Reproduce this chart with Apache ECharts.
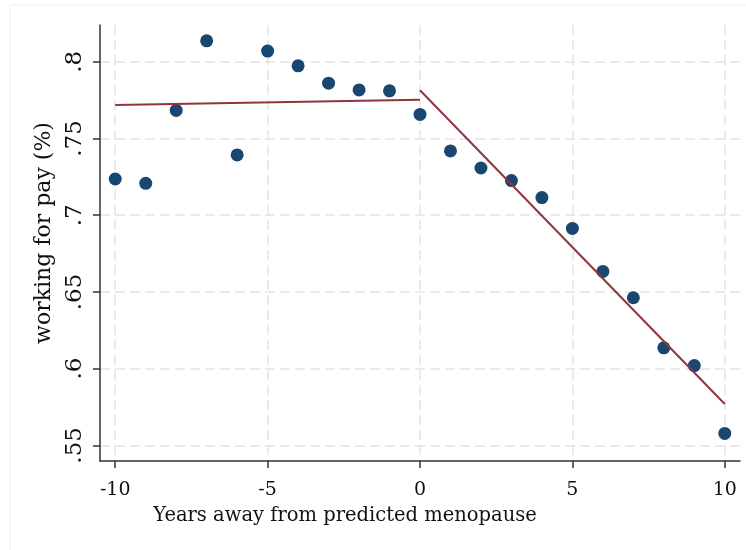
<!DOCTYPE html>
<html>
<head>
<meta charset="utf-8">
<script src="https://cdn.jsdelivr.net/npm/echarts@6/dist/echarts.min.js"></script>
<style>
  html, body { margin: 0; padding: 0; background: #fff; }
  #chart { width: 746px; height: 550px; }
</style>
</head>
<body>
<div id="chart"></div>
<script>
// years away from predicted menopause
const years = [-10, -9, -8, -7, -6, -5, -4, -3, -2, -1, 0, 1, 2, 3, 4, 5, 6, 7, 8, 9, 10];
// share working for pay
const workShare = [0.7236, 0.7208, 0.7683, 0.8137, 0.7393, 0.8070, 0.7974, 0.7861, 0.7817, 0.7811,
  0.7657, 0.7419, 0.7308, 0.7226, 0.7115, 0.6914, 0.6634, 0.6462, 0.6136, 0.6020, 0.5578];

// fitted lines before and after menopause (end points)
const preFitX = [-10, 0];
const preFitY = [0.7719, 0.7752];
const postFitX = [0, 10];
const postFitY = [0.7815, 0.5770];

const xTicks = [-10, -5, 0, 5, 10];
const yTicks = [0.55, 0.6, 0.65, 0.7, 0.75, 0.8];

const font = 'DejaVu Serif';
const gridStyle = { color: '#e4e4e4', width: 1.5, type: [10, 5] };

const chart = echarts.init(document.getElementById('chart'));

const option = {
  animation: false,
  backgroundColor: '#fff',
  graphic: [{
    type: 'rect',
    shape: { x: 10, y: 5, width: 800, height: 600 },
    style: { fill: 'none', stroke: '#eceff1', lineWidth: 1 },
    silent: true
  }],
  grid: { left: 100, right: 6, top: 25, bottom: 89 },
  xAxis: {
    type: 'value',
    min: -10.5,
    max: 10.5,
    name: 'Years away from predicted menopause',
    nameLocation: 'middle',
    nameGap: 45,
    nameTextStyle: { fontFamily: font, fontSize: 19.5, color: '#111', padding: [0, 150, 0, 0] },
    axisLine: { onZero: false, lineStyle: { color: '#333', width: 1.5 } },
    axisTick: { customValues: xTicks, length: 7, lineStyle: { color: '#333', width: 1.5 } },
    axisLabel: {
      customValues: xTicks,
      margin: 20,
      fontFamily: font, fontSize: 19, color: '#111'
    },
    splitLine: { show: true, lineStyle: gridStyle }
  },
  yAxis: {
    type: 'value',
    min: 0.5398,
    max: 0.824,
    name: 'working for pay (%)',
    nameLocation: 'middle',
    nameGap: 45,
    nameTextStyle: { fontFamily: font, fontSize: 22, color: '#111', padding: [0, 0, 0, 20] },
    axisLine: { show: true, onZero: false, lineStyle: { color: '#333', width: 1.5 } },
    axisTick: { show: true, customValues: yTicks, length: 7, lineStyle: { color: '#333', width: 1.5 } },
    axisLabel: {
      customValues: yTicks,
      rotate: 90,
      margin: 13,
      fontFamily: font, fontSize: 23, color: '#111',
      formatter: v => String(+v.toFixed(2)).replace(/^0/, '')
    },
    splitLine: { show: true, lineStyle: gridStyle }
  },
  series: [
    {
      type: 'scatter',
      data: years.map((x, i) => [x, workShare[i]]),
      symbolSize: 13,
      itemStyle: { color: '#1a476f', opacity: 1 }
    },
    {
      type: 'line',
      data: preFitX.map((x, i) => [x, preFitY[i]]),
      showSymbol: false,
      lineStyle: { color: '#90353b', width: 2 }
    },
    {
      type: 'line',
      data: postFitX.map((x, i) => [x, postFitY[i]]),
      showSymbol: false,
      lineStyle: { color: '#90353b', width: 2 }
    }
  ]
};

chart.setOption(option);
</script>
</body>
</html>
